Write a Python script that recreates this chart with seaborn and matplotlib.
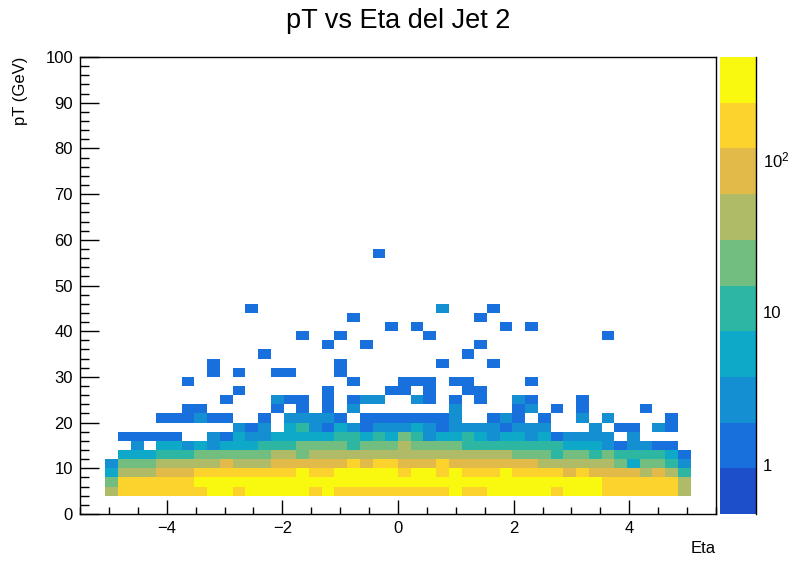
import numpy as np
import matplotlib
matplotlib.use("Agg")
import matplotlib.pyplot as plt
from matplotlib.colors import ListedColormap, LogNorm
from matplotlib.ticker import FixedLocator, NullFormatter
import seaborn as sns

# histogram binning (50 x 50)
eta_edges = np.linspace(-5.5, 5.5, 51)
pt_edges = np.linspace(0, 100, 51)
eta_centers = 0.5 * (eta_edges[:-1] + eta_edges[1:])

# dense rows: counts for eta bins 2..47, keyed by pT bin low edge
row_4 = [42, 160, 175, 182, 190, 185, 178, 200, 260, 255, 210, 270, 280, 285, 290, 262,
         225, 250, 215, 205, 198, 190, 188, 195, 205, 212, 226, 240, 228, 220, 245, 262,
         270, 258, 248, 230, 238, 242, 236, 205, 190, 180, 172, 160, 150, 48]
row_6 = [22, 150, 168, 180, 195, 205, 215, 250, 262, 275, 284, 296, 305, 312, 318, 322,
         326, 330, 334, 336, 338, 340, 338, 335, 332, 328, 324, 318, 312, 306, 298, 290,
         282, 274, 266, 258, 250, 244, 238, 220, 200, 185, 170, 150, 130, 38]
row_8 = [6, 38, 45, 52, 70, 88, 105, 125, 135, 150, 160, 170, 185, 200, 215, 240,
         225, 228, 245, 252, 238, 250, 236, 230, 242, 236, 228, 240, 225, 220, 215, 236,
         210, 195, 180, 160, 110, 125, 112, 100, 92, 80, 55, 90, 50, 11]
row_10 = [3, 18, 22, 26, 32, 36, 42, 50, 56, 62, 55, 58, 57, 64, 70, 76,
          82, 90, 98, 122, 112, 125, 120, 110, 105, 116, 121, 115, 108, 100, 92, 85,
          76, 66, 58, 52, 46, 40, 36, 32, 26, 7, 22, 17, 9, 2]
row_12 = [0, 5, 6, 7, 9, 11, 13, 16, 18, 21, 24, 26, 28, 31, 33, 28,
          32, 35, 38, 41, 44, 47, 50, 52, 54, 55, 53, 50, 46, 42, 36, 31,
          27, 24, 20, 14, 17, 16, 13, 15, 12, 11, 10, 8, 5, 1]
row_14 = [0, 0, 2, 0, 4, 5, 3, 5, 2, 6, 6, 7, 8, 10, 12, 15,
          16, 18, 17, 14, 19, 22, 25, 31, 24, 21, 18, 15, 13, 12, 11, 10,
          10, 9, 9, 8, 7, 6, 5, 3, 1, 3, 2, 1, 1, 0]
row_16 = [0, 1, 1, 1, 1, 1, 0, 0, 2, 1, 4, 3, 2, 4, 5, 6,
          5, 7, 8, 9, 6, 9, 7, 15, 8, 3, 6, 7, 8, 5, 3, 4,
          5, 3, 4, 1, 2, 3, 2, 3, 0, 2, 0, 0, 0, 0]
row_18 = [0, 0, 0, 0, 0, 0, 0, 0, 0, 0, 3, 1, 2, 0, 4, 8,
          2, 1, 5, 3, 1, 2, 3, 2, 4, 3, 1, 2, 3, 3, 2, 1,
          3, 2, 2, 0, 0, 0, 2, 0, 1, 1, 0, 2, 1, 0]
row_20 = [0, 0, 0, 0, 1, 1, 1, 2, 1, 1, 0, 0, 1, 0, 2, 3,
          2, 2, 1, 0, 1, 1, 1, 1, 1, 1, 1, 2, 0, 0, 1, 2,
          1, 0, 1, 0, 0, 2, 0, 3, 0, 0, 0, 0, 1, 0]
dense_pt = [5, 7, 9, 11, 13, 15, 17, 19, 21]
dense_rows = [row_4, row_6, row_8, row_10, row_12, row_14, row_16, row_18, row_20]

# sparse tail above 22 GeV: eta, pT, entries
tail_eta = [-3.63, -3.41, -2.09, -1.65, -1.21, -0.77, 0.99, 2.09, 2.31, 2.75, 3.19, 4.29,
            -2.97, -2.09, -1.87, -1.65, -1.21, -0.77, -0.55, -0.33, 0.33, 0.55, 0.99, 1.43,
            2.09, 2.31, 3.19,
            -2.75, -1.21, -0.11, 0.11, 0.55, 1.21, 1.43,
            -3.63, -0.77, 0.11, 0.33, 0.55, 0.99, 1.21, 2.31,
            -3.19, -2.75, -2.09, -1.87, -0.99,
            -3.19, -0.99, 0.77, 1.65,
            -2.31, 1.21,
            -1.21, -0.55, 1.43,
            -1.65, -0.99, 0.55, 3.63,
            -0.11, 0.33, 1.87, 2.31,
            -0.77, 1.43,
            -2.53, 0.77, 1.65,
            -0.33]
tail_pt = [23] * 12 + [25] * 15 + [27] * 7 + [29] * 8 + [31] * 5 + [33] * 4 + [35] * 2 \
    + [37] * 3 + [39] * 4 + [41] * 4 + [43] * 2 + [45] * 3 + [57]
tail_n = [1, 1, 1, 1, 1, 3, 2, 1, 2, 1, 1, 1,
          1, 2, 1, 1, 1, 1, 2, 2, 2, 1, 1, 1, 2, 1, 1,
          1, 1, 1, 1, 1, 1, 1,
          1, 1, 1, 1, 1, 1, 1, 1,
          1, 1, 1, 1, 1,
          1, 1, 1, 1,
          1, 1,
          1, 1, 1,
          1, 1, 1, 1,
          1, 1, 1, 1,
          1, 1,
          1, 2, 1,
          1]

# z axis range and ROOT-like "bird" palette (10 contour levels)
zmin, zmax = 0.48, 464
bird = ["#1c4fc9", "#1870dc", "#1490d2", "#0ea8c8", "#2db7a3",
        "#72bd80", "#b0bb67", "#e1ba4a", "#fcd22c", "#f8f90f"]

eta_all, pt_all, n_all = [], [], []
for pt, row in zip(dense_pt, dense_rows):
    eta_all += list(eta_centers[2:48])
    pt_all += [pt] * len(row)
    n_all += row
eta_all += tail_eta
pt_all += tail_pt
n_all += tail_n

H, _, _ = np.histogram2d(eta_all, pt_all, bins=[eta_edges, pt_edges], weights=n_all)
grid = H.T

sns.set_style("white")
plt.rcParams["font.family"] = ["Liberation Sans", "DejaVu Sans"]
plt.rcParams.update({"text.color": "black", "axes.labelcolor": "black",
                     "xtick.color": "black", "ytick.color": "black"})

fig = plt.figure(figsize=(7.96, 5.72), dpi=100)
ax = fig.add_axes([80 / 796, 1 - 514 / 572, 636 / 796, 457 / 572])
cax = fig.add_axes([720 / 796, 1 - 514 / 572, 36 / 796, 457 / 572])

sns.heatmap(grid, mask=grid == 0, cmap=ListedColormap(bird), norm=LogNorm(zmin, zmax),
            ax=ax, cbar_ax=cax, linewidths=0, xticklabels=False, yticklabels=False)
ax.invert_yaxis()

# axis ticks in data units mapped onto heatmap cell index
bw_eta = eta_edges[1] - eta_edges[0]
bw_pt = pt_edges[1] - pt_edges[0]
xmaj = [-4, -2, 0, 2, 4]
xmin_t = np.arange(-5.5, 5.51, 0.5)
ymaj = np.arange(0, 101, 10)
ymin_t = np.arange(0, 101, 2)
ax.set_xticks([(v - eta_edges[0]) / bw_eta for v in xmaj])
ax.set_xticklabels([str(v).replace("-", "\u2212") for v in xmaj], fontsize=12)
ax.set_xticks([(v - eta_edges[0]) / bw_eta for v in xmin_t], minor=True)
ax.set_yticks([(v - pt_edges[0]) / bw_pt for v in ymaj])
ax.set_yticklabels([str(v) for v in ymaj], fontsize=12, rotation=0)
ax.set_yticks([(v - pt_edges[0]) / bw_pt for v in ymin_t], minor=True)
ax.tick_params(axis="x", which="major", direction="in", length=9.9, width=1, pad=5,
               bottom=True, top=False, colors="black")
ax.tick_params(axis="x", which="minor", direction="in", length=5, width=1, bottom=True,
               colors="black")
ax.tick_params(axis="y", which="major", direction="in", length=13.7, width=1, pad=5,
               left=True, right=False, colors="black")
ax.tick_params(axis="y", which="minor", direction="in", length=6.8, width=1, left=True,
               colors="black")
for s in ax.spines.values():
    s.set_visible(True)
    s.set_color("black")
    s.set_linewidth(1)

ax.set_xlabel("Eta", loc="right", fontsize=12, color="black")
ax.xaxis.set_label_coords(1.0, -0.06)
ax.set_ylabel("pT (GeV)", loc="top", fontsize=12, color="black")
ax.yaxis.set_label_coords(-0.082, 1.0)

fig.text(0.5, 1 - 21 / 572, "pT vs Eta del Jet 2", ha="center", va="center",
         fontsize=19.5, color="black")

# colour bar (log z)
cbar = ax.collections[0].colorbar
cbar.outline.set_visible(False)
cax.spines["right"].set_visible(True)
cax.spines["right"].set_color("black")
cax.spines["right"].set_linewidth(1)
cax.yaxis.set_major_locator(FixedLocator([1, 10, 100]))
cax.set_yticklabels(["1", "10", "$\\mathregular{10^{2}}$"], fontsize=12, color="black")
minors = [m * 10.0 ** e for e in (-1, 0, 1, 2) for m in range(2, 10)]
cax.yaxis.set_minor_locator(FixedLocator([v for v in minors if zmin <= v <= zmax]))
cax.yaxis.set_minor_formatter(NullFormatter())
cax.tick_params(axis="y", which="major", direction="in", length=13.7, width=1, pad=5,
                right=True, left=False, colors="black")
cax.tick_params(axis="y", which="minor", direction="in", length=6.8, width=1,
                right=True, left=False, colors="black")

fig.savefig("out.png", dpi=100, facecolor="white")
